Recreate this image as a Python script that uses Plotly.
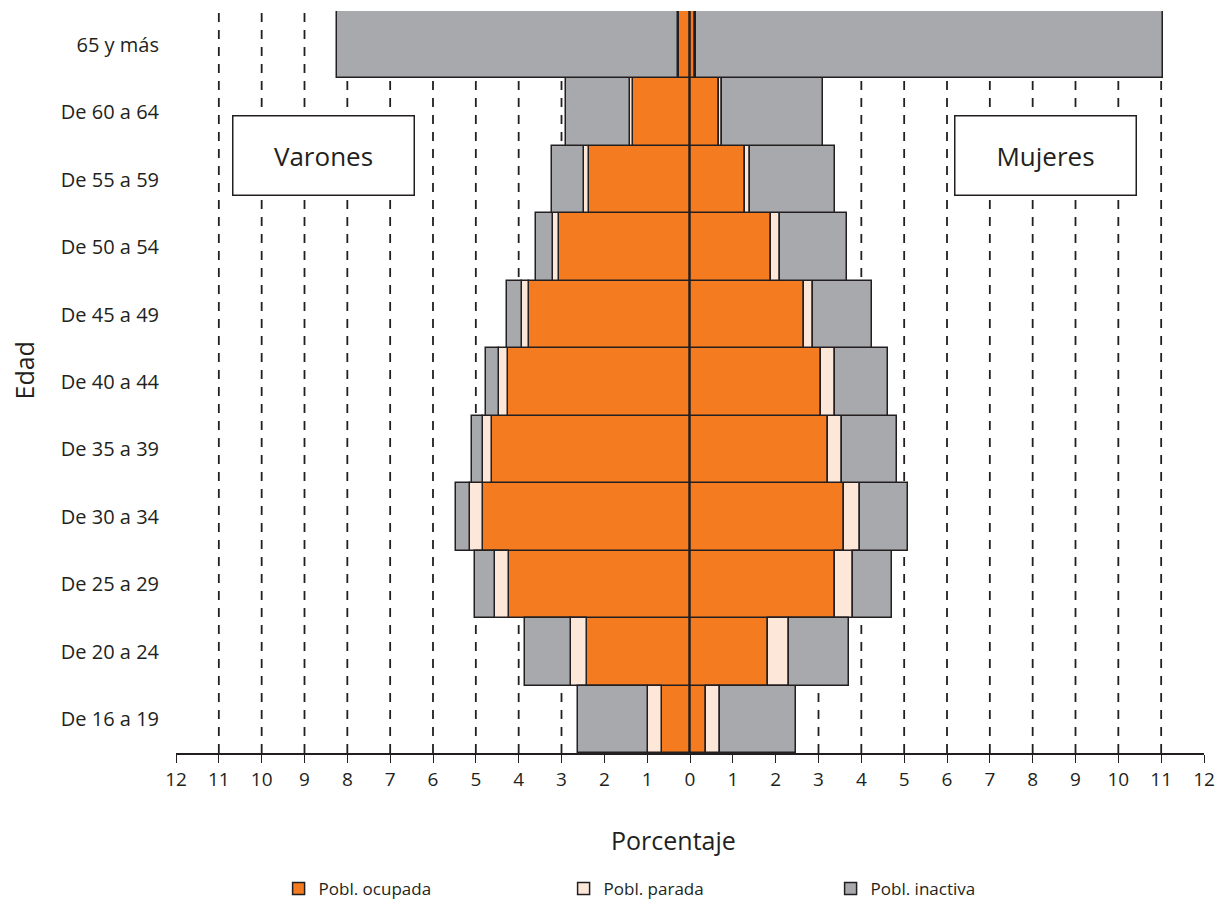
import plotly.graph_objects as go

categories = ["De 16 a 19", "De 20 a 24", "De 25 a 29", "De 30 a 34", "De 35 a 39",
              "De 40 a 44", "De 45 a 49", "De 50 a 54", "De 55 a 59", "De 60 a 64", "65 y más"]

varones_ocupada = [0.66, 2.40, 4.23, 4.84, 4.63, 4.26, 3.75, 3.05, 2.35, 1.34, 0.26]
varones_parada = [0.33, 0.38, 0.32, 0.30, 0.21, 0.21, 0.17, 0.16, 0.13, 0.05, 0.01]
varones_inactiva = [1.62, 1.07, 0.47, 0.33, 0.26, 0.30, 0.35, 0.39, 0.75, 1.51, 7.97]

mujeres_ocupada = [0.37, 1.81, 3.39, 3.60, 3.22, 3.06, 2.65, 1.89, 1.28, 0.68, 0.12]
mujeres_parada = [0.33, 0.49, 0.41, 0.37, 0.34, 0.33, 0.23, 0.21, 0.12, 0.06, 0.02]
mujeres_inactiva = [1.78, 1.42, 0.92, 1.12, 1.27, 1.24, 1.38, 1.57, 1.99, 2.36, 10.90]

tick_vals = list(range(-12, 13))
tick_text = [str(abs(v)) for v in tick_vals]
grid_vals = list(range(-11, 12))

series_names = ["Pobl. ocupada", "Pobl. parada", "Pobl. inactiva"]
colors = ["#F47B20", "#FDE7D8", "#A7A9AC"]
legend_widths = [240, 222, 200]
edge = "#231F20"
font_family = "Open Sans, Noto Sans, sans-serif"

fig = go.Figure()

men = [varones_ocupada, varones_parada, varones_inactiva]
women = [mujeres_ocupada, mujeres_parada, mujeres_inactiva]

for name, col, vals, lw in zip(series_names, colors, men, legend_widths):
    fig.add_trace(go.Bar(
        y=categories, x=[-v for v in vals], orientation="h", name=name,
        marker=dict(color=col, line=dict(color=edge, width=1.5)),
        legendgroup=name, showlegend=True, legendwidth=lw,
        customdata=vals, hovertemplate="Varones<br>%{y}: %{customdata}%<extra>" + name + "</extra>",
    ))
for name, col, vals in zip(series_names, colors, women):
    fig.add_trace(go.Bar(
        y=categories, x=vals, orientation="h", name=name,
        marker=dict(color=col, line=dict(color=edge, width=1.5)),
        legendgroup=name, showlegend=False,
        hovertemplate="Mujeres<br>%{y}: %{x}%<extra>" + name + "</extra>",
    ))

shapes = []
for g in grid_vals:
    shapes.append(dict(type="line", xref="x", yref="paper", x0=g, x1=g, y0=0, y1=1,
                       line=dict(color=edge, width=1.8, dash="9px,8px"), layer="below"))
shapes.append(dict(type="line", xref="x", yref="paper", x0=0, x1=0, y0=0, y1=1,
                   line=dict(color=edge, width=1.5), layer="above"))

fig.update_layout(
    width=1216, height=903,
    margin=dict(l=168, r=20, t=3, b=158),
    paper_bgcolor="white", plot_bgcolor="white",
    barmode="relative", bargap=0,
    font=dict(family=font_family, color=edge),
    shapes=shapes,
    xaxis=dict(
        range=[-12, 12], tickvals=tick_vals, ticktext=tick_text,
        showgrid=False, zeroline=False, showline=True, linecolor=edge, linewidth=1.5,
        ticks="outside", ticklen=8, tickcolor=edge, tickwidth=1.3,
        tickfont=dict(size=19, color=edge),
    ),
    yaxis=dict(
        categoryorder="array", categoryarray=categories,
        range=[-0.5, 10.5], showgrid=False, zeroline=False, showline=False,
        ticks="", tickfont=dict(size=20, color=edge), ticklabelstandoff=16,
    ),
    legend=dict(
        orientation="h", x=0.0998, y=-0.1833, xanchor="left", yanchor="middle",
        font=dict(size=17, color=edge), bgcolor="rgba(0,0,0,0)",
    ),
    annotations=[
        dict(text="Edad", xref="paper", yref="paper", x=-0.1475, y=0.516,
             xanchor="center", yanchor="middle", textangle=-90, showarrow=False,
             font=dict(size=25, color=edge)),
        dict(text="Porcentaje", xref="paper", yref="paper", x=0.4835, y=-0.1173,
             xanchor="center", yanchor="middle", showarrow=False,
             font=dict(size=25, color=edge)),
        dict(text="Varones", xref="x", yref="paper", x=-8.56, y=0.805,
             xanchor="center", yanchor="middle", showarrow=False,
             width=180, height=78, borderpad=0, bordercolor=edge, borderwidth=1.5,
             bgcolor="white", font=dict(size=26, color=edge)),
        dict(text="Mujeres", xref="x", yref="paper", x=8.30, y=0.805,
             xanchor="center", yanchor="middle", showarrow=False,
             width=180, height=78, borderpad=0, bordercolor=edge, borderwidth=1.5,
             bgcolor="white", font=dict(size=26, color=edge)),
    ],
)

fig.write_html("out.html")
